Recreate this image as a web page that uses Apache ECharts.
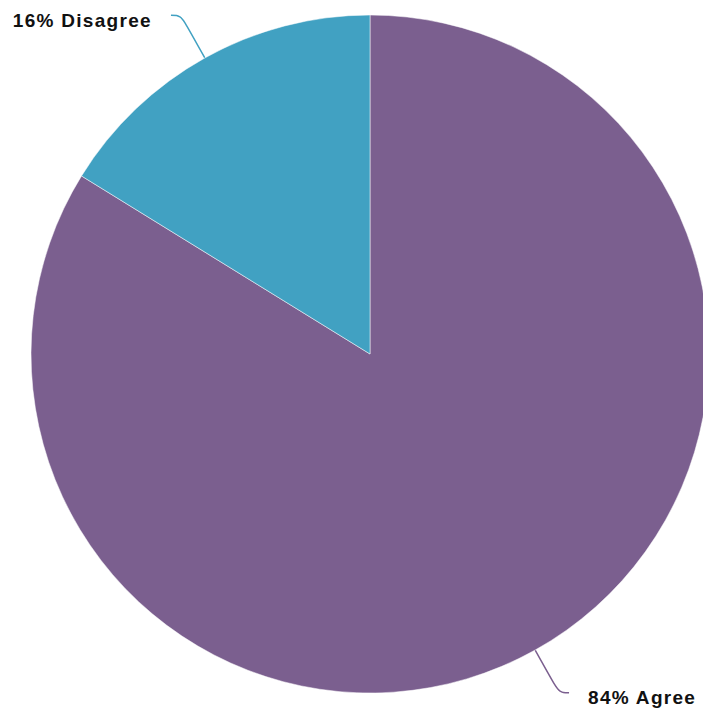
<!DOCTYPE html>
<html>
<head>
<meta charset="utf-8">
<script src="https://cdn.jsdelivr.net/npm/echarts@6/dist/echarts.min.js"></script>
<style>
html,body{margin:0;padding:0;background:#fff;}
#chart{width:703px;height:711px;}
#chart text{letter-spacing:1.3px;}
</style>
</head>
<body>
<div id="chart"></div>
<script>
var categories = ['Agree', 'Disagree'];
var values = [83.8, 16.2];
var colors = ['#7b5f8f', '#41a1c2'];

var chart = echarts.init(document.getElementById('chart'), null, { renderer: 'svg' });
chart.setOption({
  animation: false,
  series: [{
    type: 'pie',
    center: [370, 354],
    radius: 339,
    startAngle: 90,
    clockwise: true,
    avoidLabelOverlap: false,
    itemStyle: { borderColor: '#fff', borderWidth: 0.5 },
    label: {
      show: true,
      formatter: function (p) { return Math.round(p.percent) + '% ' + p.name; },
      fontFamily: 'Liberation Sans, Arial, sans-serif',
      fontWeight: 'bold',
      fontSize: 19,
      color: '#111',
      distanceToLabelLine: 19
    },
    labelLayout: { dy: 5 },
    labelLine: {
      show: true,
      smooth: 0.4,
      length: 49,
      length2: 10,
      lineStyle: { width: 1.5 }
    },
    data: categories.map(function (c, i) {
      return { name: c, value: values[i], itemStyle: { color: colors[i] } };
    })
  }]
});
</script>
</body>
</html>
